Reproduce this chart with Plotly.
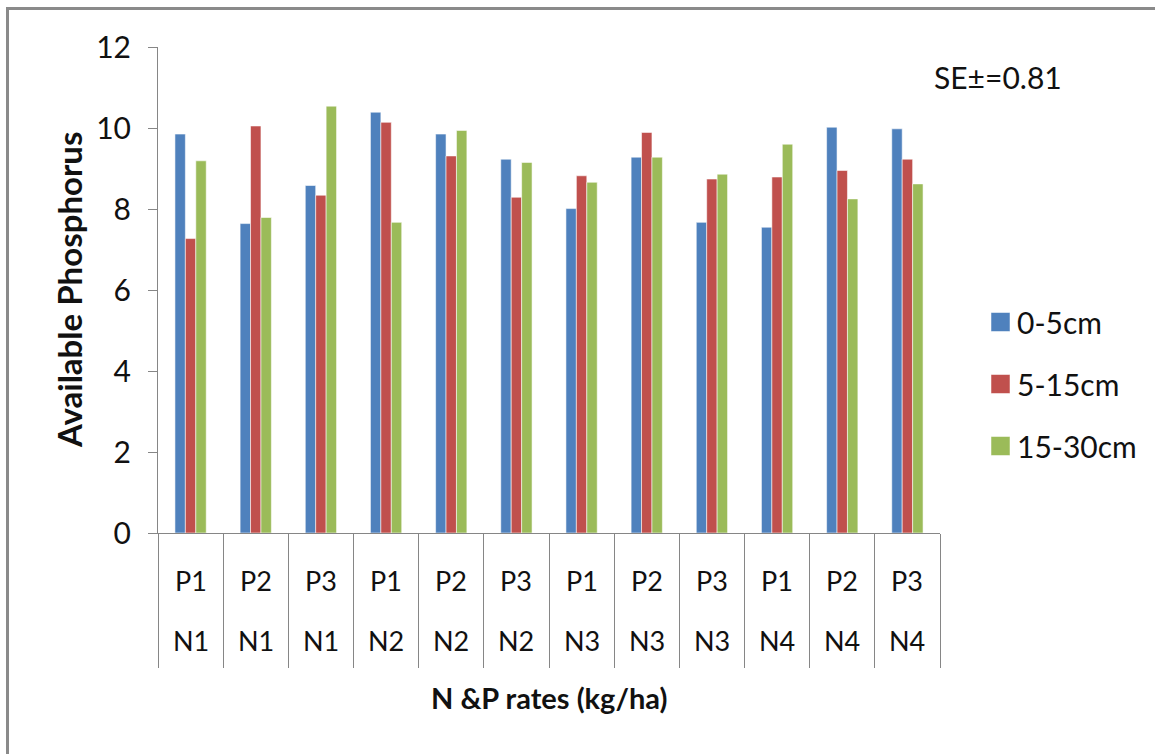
import plotly.graph_objects as go

# Treatments: phosphorus level within each nitrogen level
p_levels = ["P1", "P2", "P3", "P1", "P2", "P3", "P1", "P2", "P3", "P1", "P2", "P3"]
n_levels = ["N1", "N1", "N1", "N2", "N2", "N2", "N3", "N3", "N3", "N4", "N4", "N4"]

# Available phosphorus by soil depth
depth_0_5 = [9.85, 7.64, 8.58, 10.39, 9.85, 9.23, 8.01, 9.28, 7.67, 7.55, 10.02, 9.98]
depth_5_15 = [7.27, 10.05, 8.34, 10.14, 9.31, 8.29, 8.82, 9.89, 8.74, 8.79, 8.95, 9.23]
depth_15_30 = [9.19, 7.79, 10.54, 7.67, 9.94, 9.15, 8.66, 9.28, 8.86, 9.60, 8.25, 8.62]

series_names = ["0-5cm", "5-15cm", "15-30cm"]
series_colors = ["#4F81BD", "#C0504D", "#9BBB59"]
se_text = "SE±=0.81"

W, H = 1155, 754
L, R, T, B = 158, 215, 47, 221
PW, PH = W - L - R, H - T - B


def px_x(px):
    return (px - L) / PW


def px_y(py):
    return (H - B - py) / PH


FONT = "Lato"
AXIS_GRAY = "#868686"
TEXT = "#111111"

cats = list(range(len(p_levels)))

fig = go.Figure()
for name, vals, col in zip(series_names, [depth_0_5, depth_5_15, depth_15_30], series_colors):
    fig.add_trace(go.Bar(
        x=cats, y=vals, name=name,
        marker=dict(color=col, line=dict(color="rgba(255,255,255,0.55)", width=1)),
        showlegend=False,
    ))

annotations = []
# two-row category labels
for i, (p, n) in enumerate(zip(p_levels, n_levels)):
    annotations.append(dict(x=i, y=px_y(580), xref="x", yref="paper", text=p,
                            showarrow=False, yanchor="middle",
                            font=dict(family=FONT, size=27, color=TEXT)))
    annotations.append(dict(x=i, y=px_y(640), xref="x", yref="paper", text=n,
                            showarrow=False, yanchor="middle",
                            font=dict(family=FONT, size=27, color=TEXT)))

# standard error note
annotations.append(dict(x=px_x(998), y=px_y(77), xref="paper", yref="paper", text=se_text,
                        showarrow=False, xanchor="center", yanchor="middle",
                        font=dict(family=FONT, size=30, color=TEXT)))

# x-axis title
annotations.append(dict(x=0.5, y=px_y(697), xref="paper", yref="paper",
                        text="<b>N &P rates (kg/ha)</b>", showarrow=False,
                        xanchor="center", yanchor="middle",
                        font=dict(family=FONT, size=29, color=TEXT)))

# y-axis title
annotations.append(dict(x=px_x(69), y=0.5, xref="paper", yref="paper",
                        text="<b>Available Phosphorus</b>", showarrow=False, textangle=-90,
                        xanchor="center", yanchor="middle",
                        font=dict(family=FONT, size=33, color=TEXT)))

# legend drawn as swatches with labels
shapes = []
legend_y = [322, 384, 446]
for name, col, ly in zip(series_names, series_colors, legend_y):
    shapes.append(dict(type="rect", xref="paper", yref="paper",
                       x0=px_x(991), x1=px_x(1010), y0=px_y(ly - 9.5), y1=px_y(ly + 9.5),
                       fillcolor=col, line=dict(color="rgba(255,255,255,0.5)", width=1)))
    annotations.append(dict(x=px_x(1015), y=px_y(ly), xref="paper", yref="paper", text=name,
                            showarrow=False, xanchor="left", yanchor="middle",
                            font=dict(family=FONT, size=30, color=TEXT)))

# outer chart frame
shapes.append(dict(type="line", xref="paper", yref="paper",
                   x0=px_x(7.5), x1=px_x(7.5), y0=px_y(H + 5), y1=px_y(8.5),
                   line=dict(color="#8a8a8a", width=3)))
shapes.append(dict(type="line", xref="paper", yref="paper",
                   x0=px_x(6), x1=px_x(W + 5), y0=px_y(8.5), y1=px_y(8.5),
                   line=dict(color="#8a8a8a", width=3)))

fig.update_layout(
    width=W, height=H,
    margin=dict(l=L, r=R, t=T, b=B, pad=0),
    paper_bgcolor="white", plot_bgcolor="white",
    barmode="group", bargap=0.52, bargroupgap=0,
    showlegend=False,
    font=dict(family=FONT, color=TEXT),
    annotations=annotations,
    shapes=shapes,
)

fig.update_xaxes(
    type="linear", range=[-0.5, len(cats) - 0.5],
    tickmode="array", tickvals=[i - 0.5 for i in range(len(cats) + 1)],
    showticklabels=False,
    ticks="outside", ticklen=134, tickcolor=AXIS_GRAY, tickwidth=1,
    showline=True, linecolor=AXIS_GRAY, linewidth=1,
    showgrid=False, zeroline=False,
)

fig.update_yaxes(
    range=[0, 12], dtick=2, tick0=0,
    ticks="outside", ticklen=9, tickcolor=AXIS_GRAY, tickwidth=1,
    showline=True, linecolor=AXIS_GRAY, linewidth=1,
    showgrid=False, zeroline=False,
    ticklabelstandoff=11,
    tickfont=dict(family=FONT, size=30, color=TEXT),
)

fig.write_html("out.html")
